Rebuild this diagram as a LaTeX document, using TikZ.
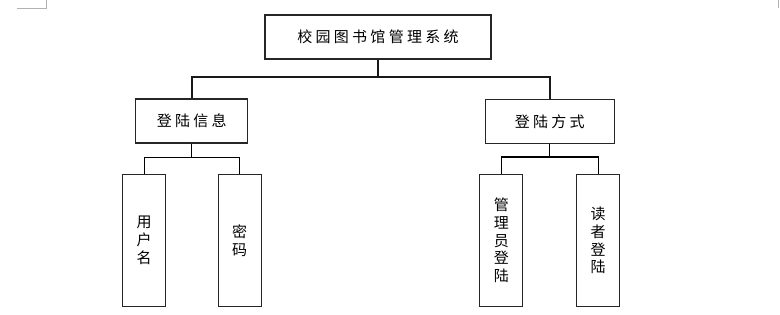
\documentclass[tikz,border=0pt]{standalone}
\usepackage{fontspec}
\newfontfamily\cjk{Noto Sans CJK SC}[LetterSpace=22]
\newfontfamily\cjkv{Noto Sans CJK SC}
\begin{document}
\begin{tikzpicture}[x=1pt,y=-1pt,
  box/.style={draw=black!85,line width=1.3pt,fill=white,inner sep=0pt,
    font=\cjk\fontsize{15}{18}\selectfont,align=center},
  vbox/.style={draw=black!85,line width=1.3pt,fill=white,inner sep=0pt,
    font=\cjkv\fontsize{15}{17.7}\selectfont,align=center,minimum width=43pt,minimum height=132pt},
  conn/.style={draw=black,line width=1.2pt},
  mainconn/.style={draw=black!90,line width=1.8pt}]
\useasboundingbox (0,0) rectangle (780,315);
% page corner marks
\draw[black!30,line width=0.8pt] (17,8) -- (46,8) -- (46,0);
\draw[black!30,line width=0.8pt] (778.5,0) -- (778.5,8);
% nodes
\node[box,minimum width=226pt,minimum height=44pt] (top) at (378,37) {校园图书馆管理系统};
\node[box,minimum width=112pt,minimum height=44pt] (A) at (191.7,121) {登陆信息};
\node[box,minimum width=129pt,minimum height=44pt] (B) at (549.7,121.3) {登陆方式};
\node[vbox] (A1) at (144.2,240.5) {用\\户\\名};
\node[vbox] (A2) at (239.7,240.5) {密\\码};
\node[vbox] (B1) at (501.3,240.5) {管\\理\\员\\登\\陆};
\node[vbox] (B2) at (598.2,240.5) {读\\者\\登\\陆};
% connectors
\draw[mainconn] (top.south) -- ++(0,17) coordinate (j0);
\draw[mainconn] (A.north) |- (j0) -| (B.north);
\draw[conn] (A.south) -- ++(0,13.5) coordinate (ja);
\draw[conn] (A1.north) |- (ja) -| (A2.north);
\draw[conn] (B.south) -- ++(0,13) coordinate (jb);
\draw[conn] (B1.north) |- (jb) -| (B2.north);
\end{tikzpicture}
\end{document}
